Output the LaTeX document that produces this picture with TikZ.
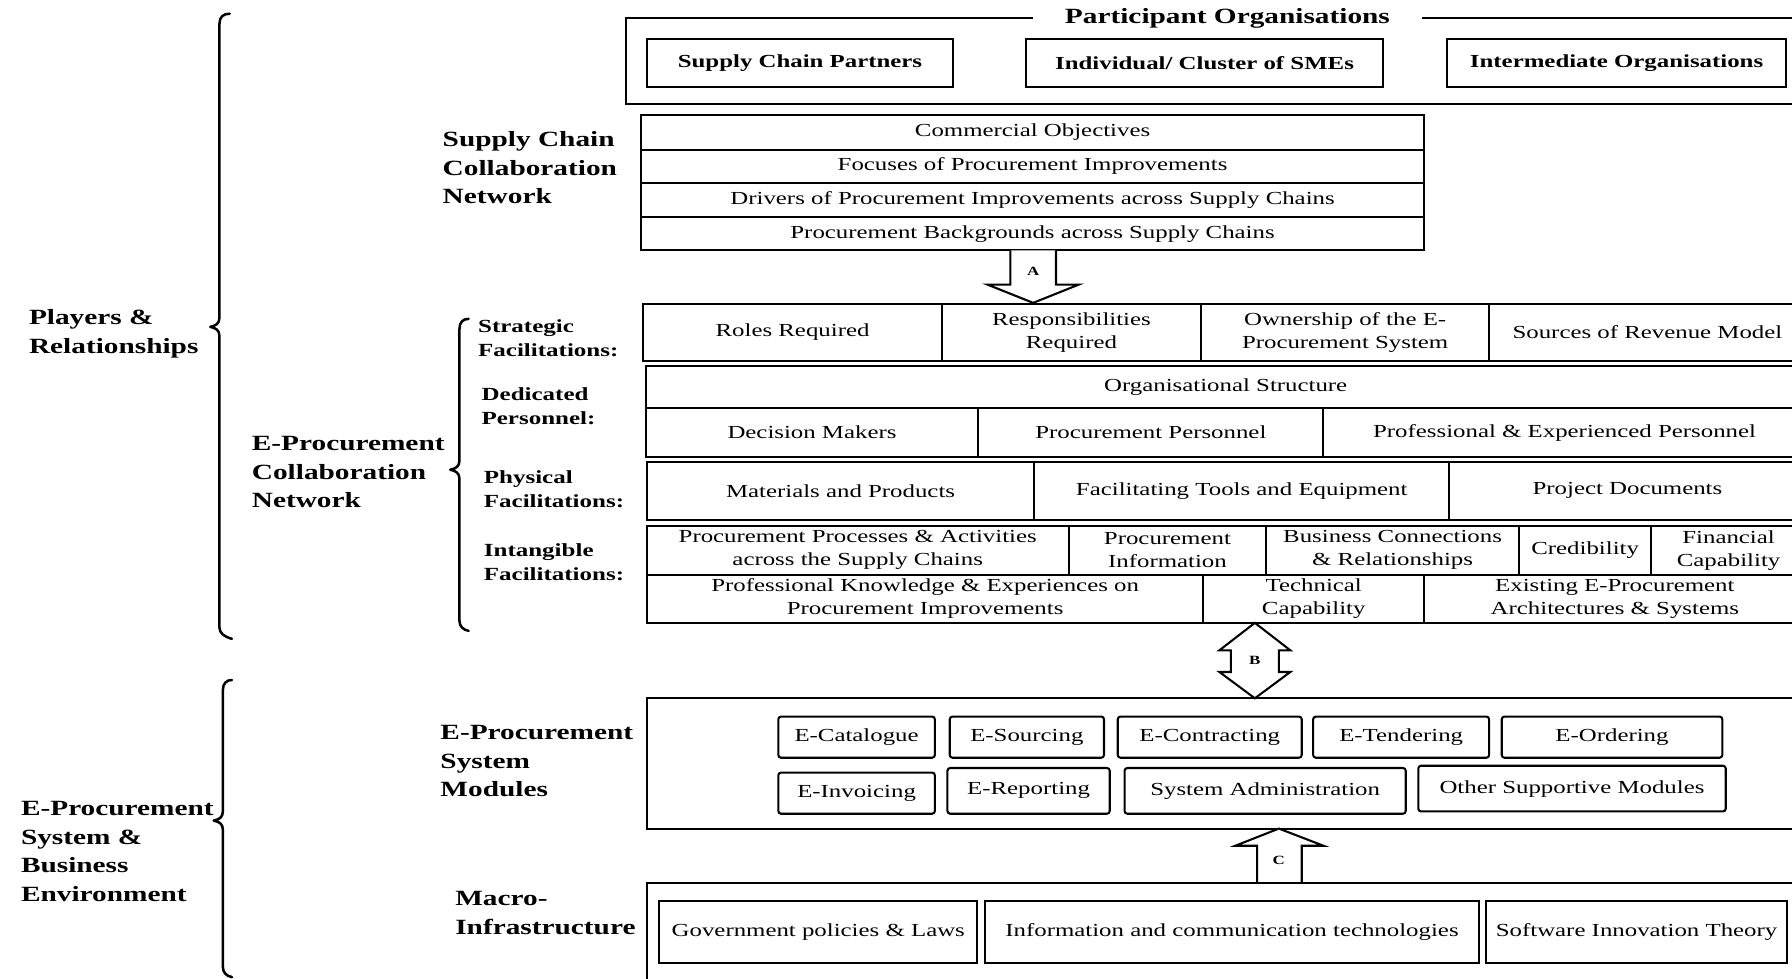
\documentclass[tikz,border=0pt]{standalone}
\usepackage{fontspec}
\setmainfont{Liberation Serif}[FakeStretch=1.35]
\newcommand\regfont{\fontsize{8.05}{10}\selectfont}
\newcommand\bigbold{\fontsize{9.5}{12.5}\selectfont\bfseries}
\newcommand\lblbold{\fontsize{8.1}{10.5}\selectfont\bfseries}
\newcommand\tagfont{\fontsize{5.5}{6}\selectfont\bfseries}
% \boxat[style]{name}{x1}{y1}{x2}{y2}{text}: a box given by its corners
\newcommand\boxat[7][cell]{%
  \node[#1, minimum width={(#5-#3)*0.5pt}, minimum height={(#6-#4)*0.5pt}]
    (#2) at ({(#3+#5)/2},{(#4+#6)/2}) {#7};}
\begin{document}
\begin{tikzpicture}[x=0.5pt,y=-0.5pt,
  frame/.style={draw, line width=0.9pt, inner sep=0pt},
  cell/.style={draw, line width=0.9pt, inner sep=0pt, align=center, font=\regfont},
  modbox/.style={cell, rounded corners=1.2pt},
  sidelabel/.style={anchor=west, align=left, inner sep=0pt, font=\bigbold},
  facetlabel/.style={anchor=west, align=left, inner sep=0pt, font=\lblbold},
  bracesty/.style={draw, line width=1.1pt, line cap=round, line join=round},
  blockarrow/.style={draw, line width=0.9pt, fill=white, line join=miter},
  arrowtag/.style={inner sep=0pt, font=\tagfont}]

\useasboundingbox (0,0) rectangle (1568,856);
\clip (0,0) rectangle (1568,856);

% ---------- participant organisations ----------
\boxat[frame]{part}{548}{16}{1590}{91}{}
\node[fill=white, inner xsep=14pt, inner ysep=1pt, font=\bigbold] (parttitle) at (1074,16) {Participant Organisations};
\boxat{scp}{566}{34}{834}{76}{\bfseries Supply Chain Partners}
\boxat{sme}{898}{34}{1210}{76}{\bfseries Individual/ Cluster of SMEs}
\boxat{inter}{1266}{34}{1563}{76}{\bfseries Intermediate Organisations}

% ---------- supply chain collaboration network ----------
\node[sidelabel] (scn) at (387,147) {Supply Chain\\Collaboration\\Network};
\boxat{co}{561}{101}{1246}{131}{Commercial Objectives}
\boxat{fo}{561}{131}{1246}{160}{Focuses of Procurement Improvements}
\boxat{dr}{561}{160}{1246}{190}{Drivers of Procurement Improvements across Supply Chains}
\boxat{pb}{561}{190}{1246}{219}{Procurement Backgrounds across Supply Chains}

% arrow A
\draw[blockarrow] (884,219) -- (884,249) -- (864,249) -- (904,265) -- (944,249) -- (924,249) -- (924,219);
\node[arrowtag] (tagA) at (904,237) {A};

% ---------- e-procurement collaboration network ----------
\node[sidelabel] (epc) at (220,413) {E-Procurement\\Collaboration\\Network};
\node[facetlabel] (sf) at (418,296) {Strategic\\Facilitations:};
\node[facetlabel] (dp) at (421,355) {Dedicated\\Personnel:};
\node[facetlabel] (phf) at (423,428) {Physical\\Facilitations:};
\node[facetlabel] (inf) at (423,492) {Intangible\\Facilitations:};

\boxat{roles}{563}{266}{824}{316}{Roles Required}
\boxat{resp}{824}{266}{1051}{316}{Responsibilities\\Required}
\boxat{own}{1051}{266}{1303}{316}{Ownership of the E-\\Procurement System}
\boxat{rev}{1303}{266}{1580}{316}{Sources of Revenue Model}

\boxat{org}{565}{320}{1580}{357}{Organisational Structure}
\boxat{dm}{565}{357}{856}{400}{Decision Makers}
\boxat{pp}{856}{357}{1158}{400}{Procurement Personnel}
\boxat{pe}{1158}{357}{1580}{400}{Professional \& Experienced Personnel}

\boxat{mp}{566}{404}{905}{455}{Materials and Products}
\boxat{ft}{905}{404}{1268}{455}{Facilitating Tools and Equipment}
\boxat{pd}{1268}{404}{1580}{455}{Project Documents}

\boxat{ppa}{566}{460}{935}{503}{Procurement Processes \& Activities\\across the Supply Chains}
\boxat{pi}{935}{460}{1108}{503}{Procurement\\Information}
\boxat{bc}{1108}{460}{1329}{503}{Business Connections\\\& Relationships}
\boxat{cr}{1329}{460}{1445}{503}{Credibility}
\boxat{fc}{1445}{460}{1580}{503}{Financial\\Capability}
\boxat{pk}{566}{503}{1053}{545}{Professional Knowledge \& Experiences on\\Procurement Improvements}
\boxat{tc}{1053}{503}{1246}{545}{Technical\\Capability}
\boxat{ea}{1246}{503}{1580}{545}{Existing E-Procurement\\Architectures \& Systems}

% arrow B (two-headed)
\draw[blockarrow] (1098,545) -- (1129,569) -- (1119,569) -- (1119,588) -- (1129,588) -- (1098,611)
  -- (1067,588) -- (1077,588) -- (1077,569) -- (1067,569) -- cycle;
\node[arrowtag] (tagB) at (1098,578) {B};

% ---------- e-procurement system modules ----------
\node[sidelabel] (esm) at (385,666) {E-Procurement\\System\\Modules};
\boxat[frame]{modfr}{566}{611}{1590}{725}{}
\boxat[modbox]{ecat}{681}{627}{818}{663}{E-Catalogue}
\boxat[modbox]{esrc}{831}{627}{966}{663}{E-Sourcing}
\boxat[modbox]{econ}{978}{627}{1139}{663}{E-Contracting}
\boxat[modbox]{eten}{1149}{627}{1303}{663}{E-Tendering}
\boxat[modbox]{eord}{1314}{627}{1507}{663}{E-Ordering}
\boxat[modbox]{einv}{681}{676}{818}{712}{E-Invoicing}
\boxat[modbox]{erep}{829}{672}{971}{712}{E-Reporting}
\boxat[modbox]{sysad}{984}{672}{1230}{712}{System Administration}
\boxat[modbox]{osm}{1241}{670}{1510}{710}{Other Supportive Modules}

% arrow C
\draw[blockarrow] (1100,773) -- (1100,740) -- (1081,740) -- (1119,725) -- (1158,740) -- (1139,740) -- (1139,773);
\node[arrowtag] (tagC) at (1119,753) {C};

% ---------- macro-infrastructure ----------
\node[sidelabel] (mi) at (398,799) {Macro-\\Infrastructure};
\boxat[frame]{macfr}{566}{773}{1590}{880}{}
\boxat{gov}{577}{788}{855}{843}{Government policies \& Laws}
\boxat{ict}{862}{788}{1294}{843}{Information and communication technologies}
\boxat{sit}{1300}{788}{1564}{843}{Software Innovation Theory}

% ---------- grouping braces ----------
\node[sidelabel] (pr) at (25,292) {Players \&\\Relationships};
\draw[bracesty] (201,12) .. controls (195,12) and (192,15) .. (192,21) -- (192,278)
  .. controls (192,283) and (189,285) .. (184,286) .. controls (189,287) and (192,289) .. (192,294)
  -- (192,549) .. controls (192,554) and (196,557) .. (203,559);

\node[sidelabel] (esb) at (18,745) {E-Procurement\\System \&\\Business\\Environment};
\draw[bracesty] (203,595) .. controls (198,595) and (195,598) .. (195,604) -- (195,710)
  .. controls (195,715) and (192,717) .. (187,718) .. controls (192,719) and (195,721) .. (195,726)
  -- (195,846) .. controls (195,851) and (198,854) .. (203,855);

\draw[bracesty] (410,279) .. controls (405,279) and (402,282) .. (402,288) -- (402,403)
  .. controls (402,408) and (399,410) .. (394,411) .. controls (399,412) and (402,414) .. (402,419)
  -- (402,543) .. controls (402,548) and (405,551) .. (410,552);
\end{tikzpicture}
\end{document}
